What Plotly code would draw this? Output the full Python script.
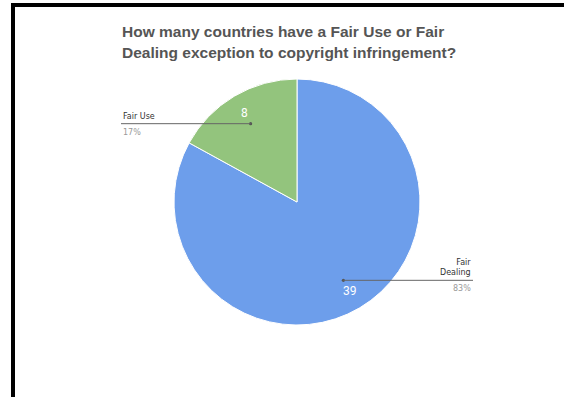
import math
import plotly.graph_objects as go

W, H = 564, 397

labels = ["Fair Dealing", "Fair Use"]
values = [39, 8]
colors = ["#6d9eeb", "#93c47d"]
title_lines = ["How many countries have a Fair Use or Fair",
               "Dealing exception to copyright infringement?"]

# pie geometry in pixels
cx, cy, R = 297, 202, 123

def px(x):
    return x / W

def py(y):
    return 1 - y / H

fig = go.Figure()
fig.add_trace(go.Pie(
    labels=labels, values=values, sort=False, direction="clockwise", rotation=0,
    marker=dict(colors=colors, line=dict(color="white", width=1)),
    textinfo="none", hoverinfo="label+value+percent", showlegend=False,
    domain=dict(x=[px(cx - R), px(cx + R)], y=[py(cy + R), py(cy - R)]),
))

total = sum(values)
annotations = []
shapes = []

# border (black frame on top and left)
shapes.append(dict(type="rect", xref="paper", yref="paper", x0=px(11), x1=px(15), y0=0, y1=py(3),
                   fillcolor="black", line=dict(width=0), layer="above"))
shapes.append(dict(type="rect", xref="paper", yref="paper", x0=px(11), x1=1, y0=py(7), y1=py(3),
                   fillcolor="black", line=dict(width=0), layer="above"))

# title (one annotation per line for exact spacing)
for i, line in enumerate(title_lines):
    annotations.append(dict(text=line, xref="paper", yref="paper",
                            x=px(120), y=py(31 + 21 * i), xanchor="left", yanchor="middle",
                            align="left", showarrow=False,
                            font=dict(family="Liberation Sans, Arial", size=15.5, weight="bold",
                                      color="#555555")))

cum = 0
for lab, val in zip(labels, values):
    mid = (cum + val / 2) / total * 2 * math.pi
    cum += val
    sx, sy = math.sin(mid), -math.cos(mid)
    dx, dy = cx + 0.74 * R * sx, cy + 0.74 * R * sy
    tx, ty = cx + 0.845 * R * sx, cy + 0.845 * R * sy
    pct = f"{round(val / total * 100)}%"
    annotations.append(dict(text=str(val), xref="paper", yref="paper", x=px(tx), y=py(ty),
                            xanchor="center", yanchor="middle", showarrow=False,
                            font=dict(family="Roboto, Arial", size=12, color="white")))
    shapes.append(dict(type="circle", xref="paper", yref="paper",
                       x0=px(dx - 1.6), x1=px(dx + 1.6), y0=py(dy + 1.6), y1=py(dy - 1.6),
                       fillcolor="#555555", line=dict(width=0)))
    if sx < 0:
        lx = 121
        shapes.append(dict(type="line", xref="paper", yref="paper", x0=px(lx), x1=px(dx),
                           y0=py(dy), y1=py(dy), line=dict(color="#666666", width=1)))
        annotations.append(dict(text=lab, xref="paper", yref="paper", x=px(lx), y=py(dy - 1),
                                xanchor="left", yanchor="bottom", showarrow=False,
                                font=dict(family="DejaVu Sans", size=8, color="#333333")))
        annotations.append(dict(text=pct, xref="paper", yref="paper", x=px(lx), y=py(dy + 2),
                                xanchor="left", yanchor="top", showarrow=False,
                                font=dict(family="DejaVu Sans", size=8, color="#999999")))
    else:
        lx = 473
        shapes.append(dict(type="line", xref="paper", yref="paper", x0=px(dx), x1=px(lx),
                           y0=py(dy), y1=py(dy), line=dict(color="#666666", width=1)))
        annotations.append(dict(text=lab.replace(" ", "<br>"), xref="paper", yref="paper",
                                x=px(lx), y=py(dy - 1), xanchor="right", yanchor="bottom",
                                align="right", showarrow=False,
                                font=dict(family="DejaVu Sans", size=8, color="#333333")))
        annotations.append(dict(text=pct, xref="paper", yref="paper", x=px(lx), y=py(dy + 2),
                                xanchor="right", yanchor="top", showarrow=False,
                                font=dict(family="DejaVu Sans", size=8, color="#999999")))

fig.update_layout(width=W, height=H, margin=dict(l=0, r=0, t=0, b=0),
                  paper_bgcolor="white", plot_bgcolor="white",
                  annotations=annotations, shapes=shapes)

fig.write_html("out.html")
